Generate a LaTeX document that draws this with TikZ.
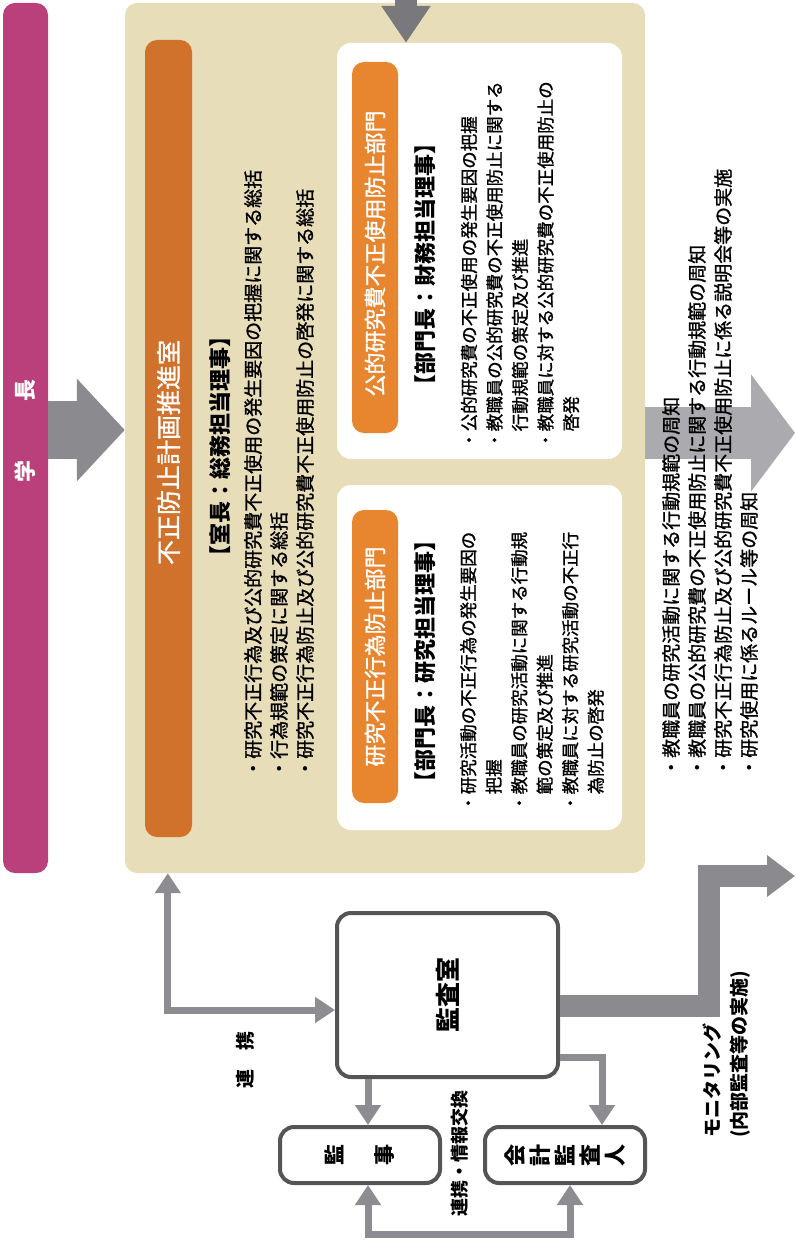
\documentclass[tikz,border=0pt]{standalone}
\usepackage{fontspec}
\setmainfont{Noto Sans CJK JP}
\newfontfamily\honbun{Noto Sans CJK JP}[FakeBold=1.2]
\usetikzlibrary{arrows.meta}
\definecolor{gakuchoiro}{HTML}{B9407A}
\definecolor{beige}{HTML}{E8DDB9}
\definecolor{daidai}{HTML}{D0722C}
\definecolor{daidai2}{HTML}{E88630}
\definecolor{yajiiro}{HTML}{8A8A8F}
\definecolor{yajiusui}{HTML}{ABABAF}
\definecolor{yajikoi}{HTML}{78787D}
\definecolor{renkei}{HTML}{8C8C91}
\definecolor{waku}{HTML}{555555}
\begin{document}
\begin{tikzpicture}[x=1pt,y=-1pt,
    bar/.style={rounded corners=12pt,inner sep=0pt},
    wbox/.style={fill=white,rounded corners=14pt,inner sep=0pt},
    obox/.style={draw=waku,line width=4pt,fill=white,rounded corners=14pt,inner sep=0pt,rotate=90},
    tate/.style={rotate=90,inner sep=0pt},
    conn/.style={draw=renkei,line width=7pt},
    yaji/.tip={Triangle[length=20pt,width=25pt]}]
  \useasboundingbox (0,0) rectangle (795,1246);
  % 学長
  \node[bar,fill=gakuchoiro,minimum width=45pt,minimum height=870pt] (gakucho) at (25.5,438) {};
  \node[tate,text=white,font=\fontsize{22}{22}\selectfont\bfseries] (gakuchomoji) at (25.5,431) {学\hspace{2.7em}長};
  % 不正防止計画推進室
  \node[bar,fill=beige,minimum width=520pt,minimum height=870pt] (suishin) at (385,438) {};
  \draw[draw=yajiiro,line width=58pt,-{Triangle[length=48pt,width=100pt]}] ([yshift=8]gakucho.east) -- ([yshift=8]suishin.west);
  \draw[draw=yajiusui,line width=52pt,-{Triangle[length=44pt,width=115pt]}] ([yshift=5]suishin.east) -- (795,433);
  \node[bar,fill=daidai,minimum width=47pt,minimum height=797pt] (suishinbar) at (168.5,438.5) {};
  \node[tate,text=white,font=\honbun\fontsize{25}{25}\selectfont] (suishinmoji) at ([yshift=-14]suishinbar.center) {不正防止計画推進室};
  \node[tate,font=\fontsize{22}{22}\selectfont\bfseries] (shitsucho) at (220,446) {【室長：総務担当理事】};
  \node[tate,align=left,anchor=west,font=\honbun\fontsize{19}{26}\selectfont] (soukatsu) at (279,778)
    {・研究不正行為及び公的研究費不正使用の発生要因の把握に関する総括\\・行為規範の策定に関する総括\\・研究不正行為防止及び公的研究費不正使用防止の啓発に関する総括};
  % 公的研究費不正使用防止部門
  \node[wbox,minimum width=285pt,minimum height=416pt] (koteki) at (479.5,251) {};
  \coordinate (topin) at (406,0);
  \draw[draw=yajikoi,line width=22pt,-{Triangle[length=37pt,width=47pt]}] (topin) -- (topin |- koteki.north);
  \node[bar,fill=daidai2,minimum width=46pt,minimum height=371pt] (kotekibar) at (375,247.5) {};
  \node[tate,text=white,font=\honbun\fontsize{22}{22}\selectfont] (kotekimoji) at ([yshift=-6]kotekibar.center) {公的研究費不正使用防止部門};
  \node[tate,font=\fontsize{22}{22}\selectfont\bfseries] (zaimu) at (425,264) {【部門長：財務担当理事】};
  \node[tate,align=left,anchor=west,font=\honbun\fontsize{17.5}{25.5}\selectfont] (kotekitext) at (520,449)
    {・公的研究費の不正使用の発生要因の把握\\・教職員の公的研究費の不正使用防止に関する\\\hspace*{1em}行動規範の策定及び推進\\・教職員に対する公的研究費の不正使用防止の\\\hspace*{1em}啓発};
  % 研究不正行為防止部門
  \node[wbox,minimum width=285pt,minimum height=345pt] (kenkyu) at (479.5,657.5) {};
  \node[bar,fill=daidai2,minimum width=46pt,minimum height=293pt] (kenkyubar) at (375,656.5) {};
  \node[tate,text=white,font=\honbun\fontsize{22}{22}\selectfont] (kenkyumoji) at (kenkyubar.center) {研究不正行為防止部門};
  \node[tate,font=\fontsize{22}{22}\selectfont\bfseries] (kenkyutanto) at (425,661) {【部門長：研究担当理事】};
  \node[tate,align=left,anchor=west,font=\honbun\fontsize{17.5}{25.5}\selectfont] (kenkyutext) at (532,812)
    {・研究活動の不正行為の発生要因の\\\hspace*{1em}把握\\・教職員の研究活動に関する行動規\\\hspace*{1em}範の策定及び推進\\・教職員に対する研究活動の不正行\\\hspace*{1em}為防止の啓発};
  % 周知
  \node[tate,align=left,anchor=west,font=\honbun\fontsize{19}{26}\selectfont] (shuchi) at (710,777)
    {・教職員の研究活動に関する行動規範の周知\\・教職員の公的研究費の不正使用防止に関する行動規範の周知\\・研究不正行為防止及び公的研究費不正使用防止に係る説明会等の実施\\・研究使用に係るルール等の周知};
  % 監査室 (rotate=90: north = left, south = right, east = top, west = bottom)
  \node[obox,minimum width=164pt,minimum height=221pt,font=\fontsize{25}{25}\selectfont\bfseries] (kansa) at (447.5,995) {監査室};
  \node[obox,minimum width=56pt,minimum height=160pt,align=center,font=\fontsize{21}{50}\selectfont\bfseries] (kanji) at (360,1155) {監\\事};
  \node[obox,minimum width=56pt,minimum height=160pt,align=center,font=\fontsize{22}{25}\selectfont\bfseries] (kaikei) at (565,1155) {会\\計\\監\\査\\人};
  \draw[conn,yaji-yaji] ([xshift=43]suishin.south west) |- ([yshift=-15]kansa.north);
  \draw[conn,-yaji] ([xshift=8]kanji.east |- kansa.west) -- ([xshift=8]kanji.east);
  \draw[conn,-yaji] ([yshift=-62]kansa.south) -| ([xshift=37]kaikei.east);
  \draw[conn,yaji-yaji] ([xshift=8]kanji.west) -- ++(0,49) -| ([xshift=5]kaikei.west);
  \coordinate (monitorout) at (795,876);
  \draw[draw=yajiiro,line width=22pt,-{Triangle[length=28pt,width=40pt]}] ([yshift=-11]kansa.south) -- ++(149,0) -- ++(0,-130) -- (monitorout);
  \node[tate,font=\fontsize{19}{19}\selectfont\bfseries] (renkeimoji) at (245,1060) {連　携};
  \node[tate,font=\fontsize{18}{18}\selectfont\bfseries] (johokokan) at (460,1153) {連携・情報交換};
  \node[tate,align=left,anchor=west,font=\fontsize{19}{27}\selectfont\bfseries] (monitor) at (727,1138) {モニタリング\\(内部監査等の実施)};
\end{tikzpicture}
\end{document}
